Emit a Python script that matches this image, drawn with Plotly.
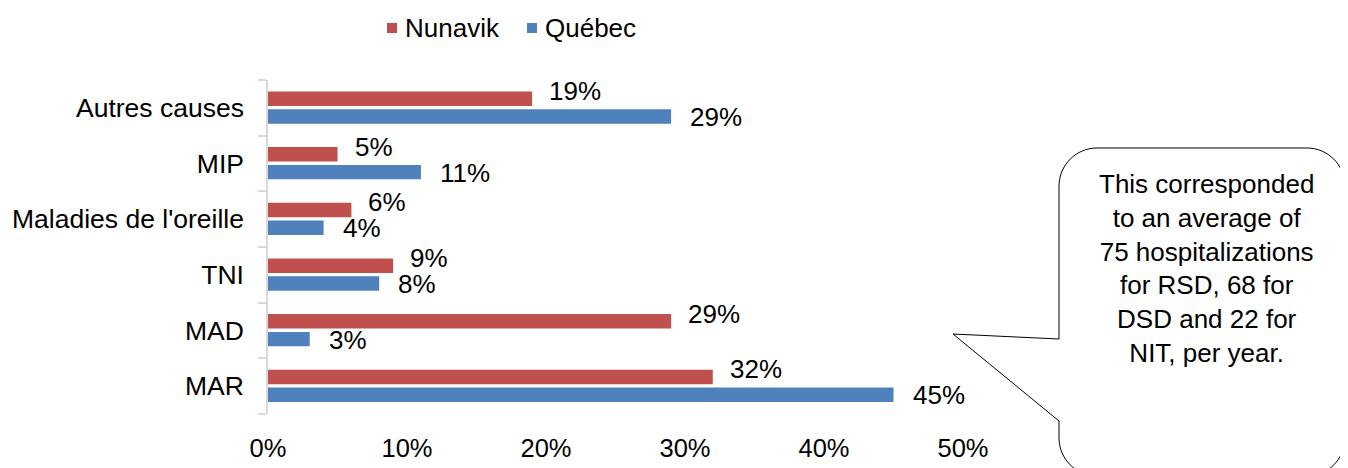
import plotly.graph_objects as go

categories = ["MAR", "MAD", "TNI", "Maladies de l'oreille", "MIP", "Autres causes"]
nunavik = [32, 29, 9, 6, 5, 19]
quebec = [45, 3, 8, 4, 11, 29]
x_ticks = [0, 10, 20, 30, 40, 50]
series_names = ["Nunavik", "Québec"]
bubble_lines = ["This corresponded", "to an average of", "75 hospitalizations",
                "for RSD, 68 for", "DSD and 22 for", "NIT, per year."]

RED = "#C0504D"
BLUE = "#4F81BD"
FONT = "Liberation Sans, Arial, sans-serif"
FS = 26

# page body has an 8px margin: figure is sized/placed so screen pixels line up
OFF = 8
W, H = 1348 - OFF, 468 - OFF
PLOT_X0, PLOT_X1, PLOT_Y0, PLOT_Y1 = 268, 963, 80, 414   # screen pixels
L, R = PLOT_X0 - OFF, (W + OFF) - PLOT_X1
T, B = PLOT_Y0 - OFF, (H + OFF) - PLOT_Y1
PW, PH = PLOT_X1 - PLOT_X0, PLOT_Y1 - PLOT_Y0


def px(x):
    return (x - PLOT_X0) / PW


def py(y):
    return (PLOT_Y1 - y) / PH


fig = go.Figure()
fig.add_trace(go.Bar(y=categories, x=quebec, orientation="h", name=series_names[1],
                     marker=dict(color=BLUE, line=dict(width=0)),
                     width=0.26, offset=-0.285, showlegend=False))
fig.add_trace(go.Bar(y=categories, x=nunavik, orientation="h", name=series_names[0],
                     marker=dict(color=RED, line=dict(width=0)),
                     width=0.26, offset=0.035, showlegend=False))

annotations = []
for c, v in zip(categories, nunavik):
    annotations.append(dict(x=v, y=c, xref="x", yref="y", text=f"{v}%", showarrow=False,
                            xanchor="left", yanchor="middle", xshift=15, yshift=17,
                            font=dict(family=FONT, size=FS, color="#000")))
for c, v in zip(categories, quebec):
    annotations.append(dict(x=v, y=c, xref="x", yref="y", text=f"{v}%", showarrow=False,
                            xanchor="left", yanchor="middle", xshift=17, yshift=-9,
                            font=dict(family=FONT, size=FS, color="#000")))

annotations.append(dict(x=px(1206), y=py(268), xref="paper", yref="paper",
                        text="<br>".join(bubble_lines), showarrow=False,
                        xanchor="center", yanchor="middle", align="center",
                        font=dict(family=FONT, size=26, color="#000")))

shapes = []
# legend (drawn manually)
legend_items = [(series_names[0], RED, 387), (series_names[1], BLUE, 527)]
for name, col, lx in legend_items:
    shapes.append(dict(type="rect", xref="paper", yref="paper",
                       x0=px(lx), x1=px(lx + 10), y0=py(33), y1=py(23),
                       fillcolor=col, line=dict(width=0)))
    annotations.append(dict(x=px(lx + 16), y=py(28), xref="paper", yref="paper",
                            text=name, showarrow=False, xanchor="left", yanchor="middle",
                            font=dict(family=FONT, size=FS, color="#000")))

# speech bubble outline (screen pixel geometry converted to paper coords)
x0, x1, y0, y1, r = 1059, 1345, 148, 476, 38
k = 0.55 * r
pts = [
    ("M", [(x0, 339)]),
    ("L", [(x0, y0 + r)]),
    ("C", [(x0, y0 + r - k), (x0 + r - k, y0), (x0 + r, y0)]),
    ("L", [(x1 - r, y0)]),
    ("C", [(x1 - r + k, y0), (x1, y0 + r - k), (x1, y0 + r)]),
    ("L", [(x1, y1 - r)]),
    ("C", [(x1, y1 - r + k), (x1 - r + k, y1), (x1 - r, y1)]),
    ("L", [(x0 + r, y1)]),
    ("C", [(x0 + r - k, y1), (x0, y1 - r + k), (x0, y1 - r)]),
    ("L", [(x0, 421)]),
    ("L", [(953, 334)]),
    ("Z", []),
]
path = ""
for cmd, ps in pts:
    path += cmd + " ".join(f"{px(a):.5f},{py(b):.5f}" for a, b in ps) + " "
shapes.append(dict(type="path", path=path, xref="paper", yref="paper",
                   line=dict(color="#000", width=1), fillcolor="white", layer="above"))

fig.update_layout(
    template="none",
    width=W, height=H,
    margin=dict(l=L, r=R, t=T, b=B, pad=0, autoexpand=False),
    paper_bgcolor="white", plot_bgcolor="white",
    barmode="overlay",
    font=dict(family=FONT, size=FS, color="#000"),
    showlegend=False,
    xaxis=dict(range=[0, 50], tickvals=x_ticks, ticktext=[f"{t}%" for t in x_ticks],
               showgrid=False, zeroline=False, showline=False, ticks="",
               ticklabelstandoff=16, automargin=False, fixedrange=True,
               tickfont=dict(family=FONT, size=25.5, color="#000")),
    yaxis=dict(type="category", categoryorder="array", categoryarray=categories,
               range=[-0.5, 5.5], showgrid=False, zeroline=False,
               showline=True, linecolor="#D9D9D9", linewidth=1.5,
               ticks="outside", ticklen=8, tickcolor="#D9D9D9", tickwidth=1.5,
               tickson="boundaries", ticklabelstandoff=17, automargin=False,
               fixedrange=True,
               tickfont=dict(family=FONT, size=26.5, color="#000")),
    annotations=annotations,
    shapes=shapes,
)

fig.write_html("out.html")
